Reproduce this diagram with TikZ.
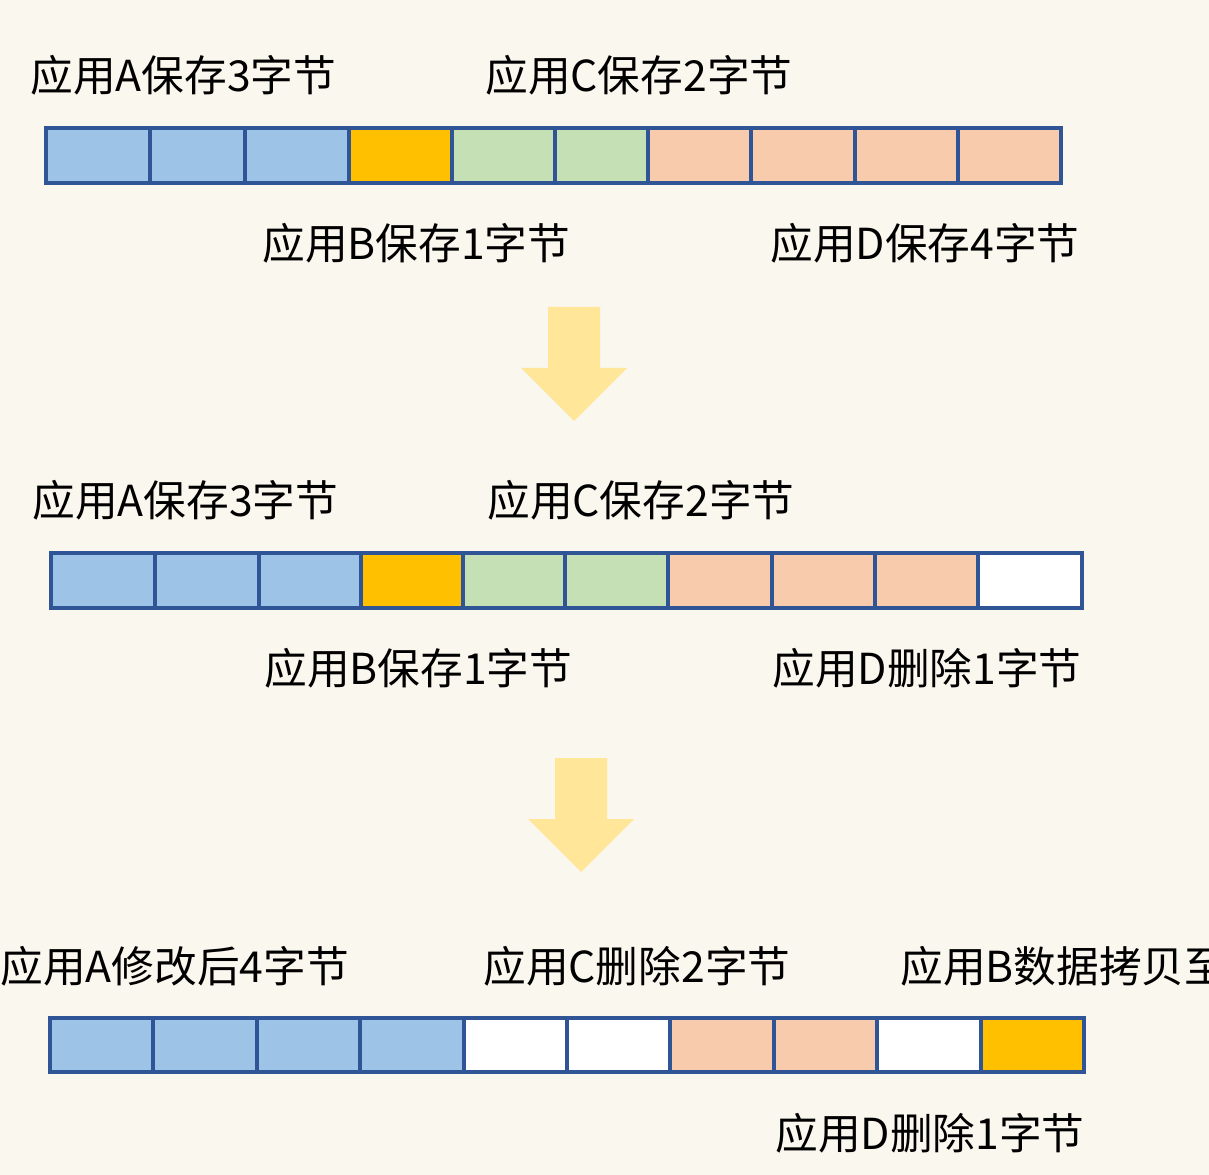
\documentclass[tikz,border=0pt]{standalone}
\usepackage{fontspec}
\newfontfamily\cjk{Noto Sans CJK SC}
\definecolor{bg}{HTML}{FAF7EE}
\definecolor{cblue}{HTML}{9DC3E6}
\definecolor{cedge}{HTML}{2F5597}
\definecolor{corange}{HTML}{FFC000}
\definecolor{cgreen}{HTML}{C5E0B4}
\definecolor{csalmon}{HTML}{F8CBAD}
\definecolor{carrow}{HTML}{FFE699}
\tikzset{
  cell/.style={draw=cedge, line width=1.9pt},
  lbl/.style={anchor=west, inner sep=0pt, font=\cjk\fontsize{24.3}{28}\selectfont, text=black},
  bigarrow/.style={fill=carrow, draw=none}
}
\begin{document}
\begin{tikzpicture}[x=0.02cm, y=-0.02cm]
\fill[bg] (0,0) rectangle (1209,1175);
\useasboundingbox (0,0) rectangle (1209,1175);
% Row 1
\foreach \a/\b/\c in {46/150/cblue,150/245/cblue,245/349/cblue,349/452/corange,452/555/cgreen,555/648/cgreen,648/751/csalmon,751/855/csalmon,855/958/csalmon,958/1061/csalmon}
  \draw[cell, fill=\c] (\a,128) rectangle (\b,183);
\node[lbl] (r1a) at (30,75) {应用A保存3字节};
\node[lbl] (r1c) at (485,75) {应用C保存2字节};
\node[lbl] (r1b) at (262,243) {应用B保存1字节};
\node[lbl] (r1d) at (770,243) {应用D保存4字节};
% Arrow 1
\path[bigarrow] (548,307) -- (600,307) -- (600,368) -- (627,368) -- (574,421) -- (521,368) -- (548,368) -- cycle;
% Row 2
\foreach \a/\b/\c in {51/155/cblue,155/259/cblue,259/361/cblue,361/463/corange,463/565/cgreen,565/668/cgreen,668/772/csalmon,772/875/csalmon,875/978/csalmon,978/1082/white}
  \draw[cell, fill=\c] (\a,553) rectangle (\b,608);
\node[lbl] (r2a) at (32,500) {应用A保存3字节};
\node[lbl] (r2c) at (487,500) {应用C保存2字节};
\node[lbl] (r2b) at (264,668) {应用B保存1字节};
\node[lbl] (r2d) at (772,668) {应用D删除1字节};
% Arrow 2
\path[bigarrow] (555,758) -- (607,758) -- (607,819) -- (634,819) -- (581,872) -- (528,819) -- (555,819) -- cycle;
% Row 3
\foreach \a/\b/\c in {50/153/cblue,153/257/cblue,257/360/cblue,360/464/cblue,464/567/white,567/670/white,670/774/csalmon,774/877/csalmon,877/981/white,981/1084/corange}
  \draw[cell, fill=\c] (\a,1018) rectangle (\b,1072);
\node[lbl] (r3a) at (0,966) {应用A修改后4字节};
\node[lbl] (r3c) at (483,966) {应用C删除2字节};
\node[lbl] (r3b) at (900,966) {应用B数据拷贝至};
\node[lbl] (r3d) at (775,1133) {应用D删除1字节};
\end{tikzpicture}
\end{document}
